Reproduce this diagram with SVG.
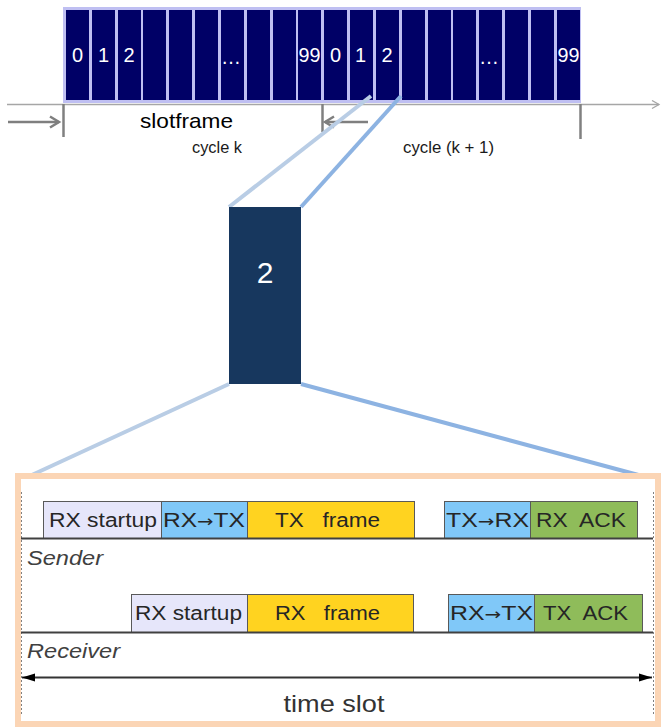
<svg xmlns="http://www.w3.org/2000/svg" width="661" height="727" viewBox="0 0 661 727">
<style>
text{font-family:"Liberation Sans",Arial,sans-serif}
.ar{font-family:"DejaVu Sans",sans-serif}
.sl{fill:#000066}
.num{fill:#ffffff;font-size:20px;text-anchor:middle}
.tick{stroke:#808080;stroke-width:2.5}
.gar{stroke:#7f7f7f;stroke-width:2.5;fill:none}
.lt{stroke:#B9CDE5;stroke-width:4}
.dk{stroke:#8DB3E2;stroke-width:4}
.bx{stroke:#595959;stroke-width:1}
.lav{fill:#E6E6FA}
.blu{fill:#80C8F8}
.gld{fill:#FFD320}
.grn{fill:#8FBC5A}
.bt{font-size:20px;fill:#262626}
.lbl{font-size:20px;font-style:italic;fill:#404040}
.dot{stroke:#808080;stroke-width:1;stroke-dasharray:2 2}
</style>
<defs>
<marker id="open" markerWidth="10" markerHeight="10" refX="8" refY="5" orient="auto" markerUnits="userSpaceOnUse">
<path d="M1,1 L8,5 L1,9" fill="none" stroke="#a6a6a6" stroke-width="1.3"/>
</marker>
<marker id="garr" markerWidth="14" markerHeight="14" refX="11" refY="7" orient="auto" markerUnits="userSpaceOnUse">
<path d="M2,1.5 L11,7 L2,12.5" fill="none" stroke="#7f7f7f" stroke-width="2.5"/>
</marker>
<marker id="blk" markerWidth="14" markerHeight="10" refX="13" refY="5" orient="auto-start-reverse" markerUnits="userSpaceOnUse">
<path d="M0,1 L13,5 L0,9 Z" fill="#000"/>
</marker>
</defs>

<g id="axis">
<line x1="7" y1="104.5" x2="659" y2="104.5" stroke="#a6a6a6" stroke-width="1.3" marker-end="url(#open)"/>
<line class="tick" x1="63.5" y1="104" x2="63.5" y2="137"/>
<line class="tick" x1="322.5" y1="104" x2="322.5" y2="132"/>
<line class="tick" x1="580.5" y1="104" x2="580.5" y2="139"/>
<line class="gar" x1="8" y1="122" x2="59" y2="122" marker-end="url(#garr)"/>
<line class="gar" x1="368" y1="122" x2="325" y2="122" marker-end="url(#garr)"/>
<text x="140" y="128" font-size="21" fill="#000" textLength="93" lengthAdjust="spacingAndGlyphs">slotframe</text>
<text x="192" y="153" font-size="16" fill="#1a1a1a" textLength="50" lengthAdjust="spacingAndGlyphs">cycle k</text>
<text x="403" y="153" font-size="16" fill="#1a1a1a" textLength="91" lengthAdjust="spacingAndGlyphs">cycle (k + 1)</text>
</g>

<g id="slotframe">
<rect x="63" y="7" width="518" height="96" fill="#BFBFF2"/>
<rect class="sl" x="66" y="10" width="23" height="90"/>
<rect class="sl" x="92" y="10" width="23" height="90"/>
<rect class="sl" x="118" y="10" width="23" height="90"/>
<rect class="sl" x="143" y="10" width="23" height="90"/>
<rect class="sl" x="169" y="10" width="23" height="90"/>
<rect class="sl" x="195" y="10" width="23" height="90"/>
<rect class="sl" x="221" y="10" width="23" height="90"/>
<rect class="sl" x="247" y="10" width="23" height="90"/>
<rect class="sl" x="273" y="10" width="23" height="90"/>
<rect class="sl" x="298" y="10" width="23" height="90"/>
<rect class="sl" x="324" y="10" width="23" height="90"/>
<rect class="sl" x="350" y="10" width="23" height="90"/>
<rect class="sl" x="376" y="10" width="23" height="90"/>
<rect class="sl" x="402" y="10" width="23" height="90"/>
<rect class="sl" x="428" y="10" width="23" height="90"/>
<rect class="sl" x="453" y="10" width="23" height="90"/>
<rect class="sl" x="479" y="10" width="23" height="90"/>
<rect class="sl" x="505" y="10" width="23" height="90"/>
<rect class="sl" x="531" y="10" width="23" height="90"/>
<rect class="sl" x="557" y="10" width="23" height="90"/>
<text class="num" x="77.5" y="62">0</text>
<text class="num" x="103.5" y="62">1</text>
<text class="num" x="129" y="62">2</text>
<text class="num" x="232" y="64" letter-spacing="2">…</text>
<text class="num" x="309.5" y="62" textLength="22" lengthAdjust="spacingAndGlyphs">99</text>
<text class="num" x="335.5" y="62">0</text>
<text class="num" x="360.5" y="62">1</text>
<text class="num" x="387" y="62">2</text>
<text class="num" x="490" y="64" letter-spacing="2">…</text>
<text class="num" x="568.5" y="62" textLength="22" lengthAdjust="spacingAndGlyphs">99</text>
</g>

<g id="connectors">
<line class="lt" x1="371" y1="96" x2="229" y2="207"/>
<line class="dk" x1="401" y1="96" x2="301" y2="207"/>
<line class="lt" x1="229" y1="384" x2="21" y2="480"/>
<line class="dk" x1="301" y1="384" x2="657" y2="480"/>
</g>

<g id="slot2">
<rect x="229" y="207" width="72" height="177" fill="#17375E"/>
<text x="265" y="283" font-size="30" fill="#fff" text-anchor="middle">2</text>
</g>

<g id="timeslot">
<rect x="18" y="476" width="640" height="248" fill="#fff" stroke="#FBD5B5" stroke-width="6"/>
<line class="dot" x1="21.5" y1="492" x2="21.5" y2="716"/>
<line class="dot" x1="653.5" y1="492" x2="653.5" y2="716"/>
</g>

<g id="sender">
<rect class="bx lav" x="43.5" y="501.5" width="118" height="37"/>
<rect class="bx blu" x="161.5" y="501.5" width="86" height="37"/>
<rect class="bx gld" x="247.5" y="501.5" width="167" height="37"/>
<rect class="bx blu" x="444.5" y="501.5" width="86" height="37"/>
<rect class="bx grn" x="530.5" y="501.5" width="107" height="37"/>
<line x1="21" y1="538.5" x2="653" y2="538.5" stroke="#404040" stroke-width="2"/>
<text class="bt" x="49" y="527" textLength="108" lengthAdjust="spacingAndGlyphs">RX startup</text>
<text class="bt" x="163" y="527" textLength="82" lengthAdjust="spacingAndGlyphs">RX<tspan class="ar" font-size="16">→</tspan>TX</text>
<text class="bt" x="275" y="527" textLength="105" lengthAdjust="spacingAndGlyphs" xml:space="preserve">TX   frame</text>
<text class="bt" x="446" y="527" textLength="83" lengthAdjust="spacingAndGlyphs">TX<tspan class="ar" font-size="16">→</tspan>RX</text>
<text class="bt" x="536" y="527" textLength="90" lengthAdjust="spacingAndGlyphs" xml:space="preserve">RX  ACK</text>
<text class="lbl" x="27" y="565" textLength="76" lengthAdjust="spacingAndGlyphs">Sender</text>
</g>

<g id="receiver">
<rect class="bx lav" x="131.5" y="594.5" width="116" height="38"/>
<rect class="bx gld" x="247.5" y="594.5" width="166" height="38"/>
<rect class="bx blu" x="448.5" y="594.5" width="86" height="38"/>
<rect class="bx grn" x="534.5" y="594.5" width="108" height="38"/>
<line x1="21" y1="632.5" x2="653" y2="632.5" stroke="#404040" stroke-width="2"/>
<text class="bt" x="135" y="620" textLength="107" lengthAdjust="spacingAndGlyphs">RX startup</text>
<text class="bt" x="275" y="620" textLength="105" lengthAdjust="spacingAndGlyphs" xml:space="preserve">RX   frame</text>
<text class="bt" x="450" y="620" textLength="83" lengthAdjust="spacingAndGlyphs">RX<tspan class="ar" font-size="16">→</tspan>TX</text>
<text class="bt" x="543" y="620" textLength="85" lengthAdjust="spacingAndGlyphs" xml:space="preserve">TX  ACK</text>
<text class="lbl" x="27" y="658" textLength="93" lengthAdjust="spacingAndGlyphs">Receiver</text>
</g>

<g id="duration">
<line x1="22" y1="677.5" x2="652" y2="677.5" stroke="#333" stroke-width="2" marker-start="url(#blk)" marker-end="url(#blk)"/>
<text x="334" y="712" font-size="24" fill="#333" text-anchor="middle" textLength="101" lengthAdjust="spacingAndGlyphs">time slot</text>
</g>
</svg>
